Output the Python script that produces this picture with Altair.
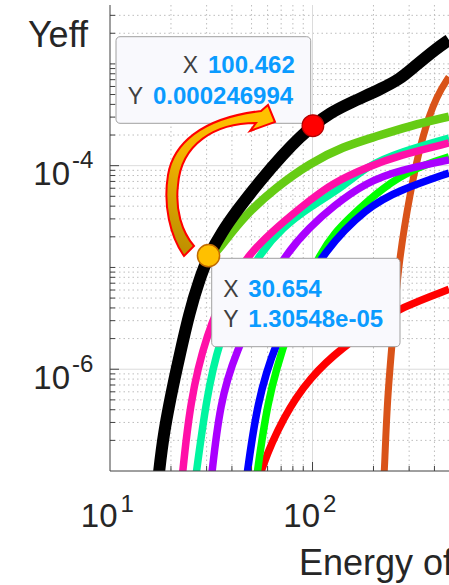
import altair as alt
import pandas as pd

# ---------------- data ----------------
black_x = [17.1, 18.3, 21.4, 24.8, 27.8, 30.654, 35.7, 42.2, 55.0, 71.7, 86.7, 100.462, 122, 153, 223, 270, 313, 412, 472]
black_y = [6.5e-8, 2.37e-7, 1.05e-6, 3.82e-6, 7.88e-6, 1.30548e-5, 2.23e-5, 3.59e-5, 7.08e-5, 1.30e-4, 1.91e-4,
           2.46994e-4, 3.30e-4, 4.13e-4, 5.8e-4, 7.11e-4, 9.12e-4, 1.43e-3, 1.72e-3]

lime_x = [17.1, 18.3, 21.4, 24.8, 27.8, 30.654, 34.9, 45.5, 66.6, 97.2, 142, 200, 300, 472]
lime_y = [6.5e-8, 2.37e-7, 1.05e-6, 3.82e-6, 7.88e-6, 1.2e-5, 1.55e-5, 3.16e-5, 6.22e-5, 1.06e-4, 1.54e-4, 1.9e-4,
          2.45e-4, 3.03e-4]

magenta_x = [22.4, 24.8, 30.1, 37.8, 49.1, 66.8, 97.2, 126, 186, 270, 472]
magenta_y = [6.5e-8, 4.99e-7, 2.28e-6, 6.43e-6, 1.39e-5, 2.5e-5, 4.6e-5, 6.76e-5, 9.7e-5, 1.27e-4, 1.67e-4]

mint_x = [26.0, 30.1, 34.9, 42.4, 53.2, 71.5, 97.2, 141.5, 186, 270, 472]
mint_y = [6.5e-8, 5.85e-7, 1.94e-6, 5.13e-6, 1.27e-5, 2.5e-5, 3.93e-5, 6.18e-5, 9.93e-5, 1.36e-4, 1.87e-4]

purple_x = [31.2, 34.9, 42.4, 53.2, 71.5, 97.2, 126, 186, 270, 472]
purple_y = [6.5e-8, 4.99e-7, 1.55e-6, 4.09e-6, 1.27e-5, 2.5e-5, 4.0e-5, 6.92e-5, 9.07e-5, 1.14e-4]

blue_x = [46.4, 53.2, 66.8, 83.9, 112.7, 186, 270, 472]
blue_y = [6.5e-8, 4.99e-7, 1.94e-6, 4.8e-6, 1.42e-5, 3.93e-5, 5.77e-5, 8.48e-5]

green_x = [52.0, 59.6, 74.8, 108.9, 153, 223, 328, 472]
green_y = [6.5e-8, 4.99e-7, 2.28e-6, 1.56e-5, 3.13e-5, 6.18e-5, 9.7e-5, 1.22e-4]

red_x = [53.2, 55.0, 71.5, 97.2, 141.5, 208, 270, 472]
red_y = [6.5e-8, 1.0e-7, 3.4e-7, 8.4e-7, 1.66e-6, 2.79e-6, 4.0e-6, 6.1e-6]

orange_x = [223, 226.7, 233.5, 250, 264, 303, 351, 412, 472]
orange_y = [6.5e-8, 1.0e-7, 4.99e-7, 2.28e-6, 1.01e-5, 5.52e-5, 2.09e-4, 4.95e-4, 7.43e-4]

marker_x = [100.462, 30.654]
marker_y = [0.000246994, 1.30548e-05]

x_tick_values = [10, 100]
x_tick_sup = ["1", "2"]
y_tick_values = [1e-6, 1e-4]
y_tick_sup = ["-6", "-4"]

x_label = "Energy of electron (eV)"
y_label = "Yeff"

# ---------------- layout ----------------
W, H = 339, 466
PAD = {"left": 110, "top": 5, "right": 0, "bottom": 114}
xs = alt.Scale(type="log", domain=[10, 472])
ys = alt.Scale(type="log", domain=[1e-7, 3.79e-3])
FONT = "Liberation Sans"
TXT = "#262626"


def X(field="x"):
    return alt.X(f"{field}:Q", scale=xs, axis=None)


def Y(field="y"):
    return alt.Y(f"{field}:Q", scale=ys, axis=None)


one = pd.DataFrame({"a": [0]})

# grid values
x_minor = [k * 10 for k in range(2, 10)] + [k * 100 for k in range(2, 5)]
x_major = [100]
y_minor = []
for n in range(-7, -2):
    for k in range(1, 10):
        v = k * 10.0 ** n
        if v in (1e-6, 1e-4) or (k == 1 and n == -7) or v > 3.79e-3:
            continue
        y_minor.append(v)
y_major = [1e-6, 1e-4]

layers = []
# grid
layers.append(alt.Chart(pd.DataFrame({"x": x_minor})).mark_rule(
    color="#bdbdbd", strokeWidth=1, strokeDash=[1.5, 3]).encode(x=X(), y=alt.value(0), y2=alt.value(H)))
layers.append(alt.Chart(pd.DataFrame({"y": y_minor})).mark_rule(
    color="#bdbdbd", strokeWidth=1, strokeDash=[1.5, 3]).encode(y=Y(), x=alt.value(0), x2=alt.value(W)))
layers.append(alt.Chart(pd.DataFrame({"x": x_major})).mark_rule(
    color="#dcdcdc", strokeWidth=1).encode(x=X(), y=alt.value(0), y2=alt.value(H)))
layers.append(alt.Chart(pd.DataFrame({"y": y_major})).mark_rule(
    color="#dcdcdc", strokeWidth=1).encode(y=Y(), x=alt.value(0), x2=alt.value(W)))

# curves (drawn bottom to top)
series = [
    (orange_x, orange_y, "#d95319", 7),
    (red_x, red_y, "#ff0000", 7.5),
    (green_x, green_y, "#00ff00", 7.5),
    (blue_x, blue_y, "#0000ff", 7.5),
    (purple_x, purple_y, "#aa00ff", 7.5),
    (mint_x, mint_y, "#00f5a0", 7.5),
    (magenta_x, magenta_y, "#ff10a8", 7.5),
    (lime_x, lime_y, "#66cc14", 8.5),
    (black_x, black_y, "#000000", 12),
]
for sx, sy, col, sw in series:
    df = pd.DataFrame({"x": sx, "y": sy})
    layers.append(alt.Chart(df).mark_line(color=col, strokeWidth=sw, clip=True,
                                          interpolate="basis", strokeCap="butt").encode(x=X(), y=Y()))

# axes lines and inward ticks
layers.append(alt.Chart(one).mark_rule(color="#404040", strokeWidth=1).encode(
    x=alt.value(0), y=alt.value(0), y2=alt.value(H)))
layers.append(alt.Chart(one).mark_rule(color="#404040", strokeWidth=1).encode(
    y=alt.value(H), x=alt.value(0), x2=alt.value(W)))
layers.append(alt.Chart(pd.DataFrame({"y": y_minor})).mark_rule(color="#404040", strokeWidth=1).encode(
    y=Y(), x=alt.value(0), x2=alt.value(5)))
layers.append(alt.Chart(pd.DataFrame({"y": y_major})).mark_rule(color="#404040", strokeWidth=1).encode(
    y=Y(), x=alt.value(0), x2=alt.value(9)))
layers.append(alt.Chart(pd.DataFrame({"x": x_minor})).mark_rule(color="#404040", strokeWidth=1).encode(
    x=X(), y=alt.value(H), y2=alt.value(H - 5)))
layers.append(alt.Chart(pd.DataFrame({"x": x_major})).mark_rule(color="#404040", strokeWidth=1).encode(
    x=X(), y=alt.value(H), y2=alt.value(H - 9)))

# tick labels
ytl = pd.DataFrame({"y": y_tick_values, "base": ["10"] * len(y_tick_values), "sup": y_tick_sup})
layers.append(alt.Chart(ytl).mark_text(align="right", baseline="alphabetic", font=FONT, fontSize=33,
                                       color=TXT, dy=19.3).encode(y=Y(), x=alt.value(-40), text="base:N"))
layers.append(alt.Chart(ytl).mark_text(align="left", baseline="alphabetic", font=FONT, fontSize=24,
                                       color=TXT, dy=2.6).encode(y=Y(), x=alt.value(-38), text="sup:N"))
xtl = pd.DataFrame({"x": x_tick_values, "base": ["10"] * len(x_tick_values), "sup": x_tick_sup})
layers.append(alt.Chart(xtl).mark_text(align="right", baseline="alphabetic", font=FONT, fontSize=33,
                                       color=TXT, dx=7.5).encode(x=X(), y=alt.value(H + 56.3), text="base:N"))
layers.append(alt.Chart(xtl).mark_text(align="left", baseline="alphabetic", font=FONT, fontSize=24,
                                       color=TXT, dx=10.5).encode(x=X(), y=alt.value(H + 40.7), text="sup:N"))

# axis titles
layers.append(alt.Chart(one).mark_text(align="right", baseline="alphabetic", font=FONT, fontSize=36,
                                       color=TXT, text=y_label).encode(x=alt.value(-22), y=alt.value(42)))
layers.append(alt.Chart(one).mark_text(align="left", baseline="alphabetic", font=FONT, fontSize=36,
                                       color=TXT, text=x_label).encode(x=alt.value(189), y=alt.value(570)))

# data-tip boxes
box_style = dict(fill="#f9f9fd", stroke="#a0a0a0", strokeWidth=1, cornerRadius=4)
layers.append(alt.Chart(one).mark_rect(**box_style).encode(
    x=alt.value(6), x2=alt.value(200.7), y=alt.value(31.7), y2=alt.value(118.3)))
layers.append(alt.Chart(one).mark_rect(**box_style).encode(
    x=alt.value(101.7), x2=alt.value(290), y=alt.value(253.3), y2=alt.value(341.7)))

# curved arrow (decoration) as a custom symbol path, given in page pixels
cx, cy, s = 218.5, 181.0, 76.0
pts = [("M", [(184, 256)]),
       ("C", [(170, 236), (163, 205), (168, 175)]),
       ("C", [(173, 145), (200, 118), (261, 111)]),
       ("L", [(268, 105)]),
       ("L", [(275, 122)]),
       ("L", [(250, 131)]),
       ("L", [(256, 123)]),
       ("C", [(215, 123), (181, 144), (178, 185)]),
       ("C", [(175, 210), (182, 232), (194, 246)])]
parts = []
for cmd, ps in pts:
    parts.append(cmd + " " + " ".join(f"{(px - cx) / s:.4f} {(py - cy) / s:.4f}" for px, py in ps))
arrow_path = " ".join(parts) + " Z"
grad = alt.LinearGradient(gradient="linear",
                          stops=[alt.GradientStop(color="#ffc000", offset=0),
                                 alt.GradientStop(color="#f5b400", offset=0.4),
                                 alt.GradientStop(color="#bf9000", offset=1)],
                          x1=0.6, x2=0.3, y1=0, y2=1)
layers.append(alt.Chart(one).mark_point(shape=arrow_path, size=(2 * s) ** 2, filled=True, fill=grad,
                                        stroke="#ff0000", strokeWidth=2, opacity=1).encode(
    x=alt.value(cx - 110), y=alt.value(cy - 5)))

# markers
mk = pd.DataFrame({"x": marker_x, "y": marker_y})
layers.append(alt.Chart(mk.iloc[[0]]).mark_point(shape="circle", filled=True, size=470, fill="#ff0000",
                                                 stroke="#b40000", strokeWidth=1.2, opacity=1).encode(x=X(), y=Y()))
layers.append(alt.Chart(mk.iloc[[1]]).mark_point(shape="circle", filled=True, size=490, fill="#ffc000",
                                                 stroke="#c06a00", strokeWidth=1.5, opacity=1).encode(x=X(), y=Y()))

# data-tip texts
tips = pd.DataFrame({
    "lab": ["X", "Y", "X", "Y"],
    "val": [format(marker_x[0], "g"), format(marker_y[0], "g"), format(marker_x[1], "g"), format(marker_y[1], "g")],
})
VAL_COL = "#0a9bff"
LAB_COL = "#404040"
pos1 = [(88, 98, 68), (33, 43, 99)]
for i, (lx, vx, by) in enumerate(pos1):
    r = tips.iloc[[i]]
    layers.append(alt.Chart(r).mark_text(align="right", baseline="alphabetic", font=FONT, fontSize=23,
                                         color=LAB_COL).encode(x=alt.value(lx), y=alt.value(by), text="lab:N"))
    layers.append(alt.Chart(r).mark_text(align="left", baseline="alphabetic", font=FONT, fontSize=24,
                                         fontWeight="bold", color=VAL_COL).encode(
        x=alt.value(vx), y=alt.value(by), text="val:N"))
pos2 = [(113.3, 138.3, 291.7), (113.3, 138.3, 322.3)]
for j, (lx, vx, by) in enumerate(pos2):
    r = tips.iloc[[j + 2]]
    layers.append(alt.Chart(r).mark_text(align="left", baseline="alphabetic", font=FONT, fontSize=23,
                                         color=LAB_COL).encode(x=alt.value(lx), y=alt.value(by), text="lab:N"))
    layers.append(alt.Chart(r).mark_text(align="left", baseline="alphabetic", font=FONT, fontSize=24,
                                         fontWeight="bold", color=VAL_COL).encode(
        x=alt.value(vx), y=alt.value(by), text="val:N"))

chart = alt.layer(*layers).properties(
    width=W, height=H,
    autosize=alt.AutoSizeParams(type="none"),
    padding=PAD,
    background="white",
).configure_view(stroke=None)

chart.save("out.html", embed_options={"renderer": "svg", "actions": False})
